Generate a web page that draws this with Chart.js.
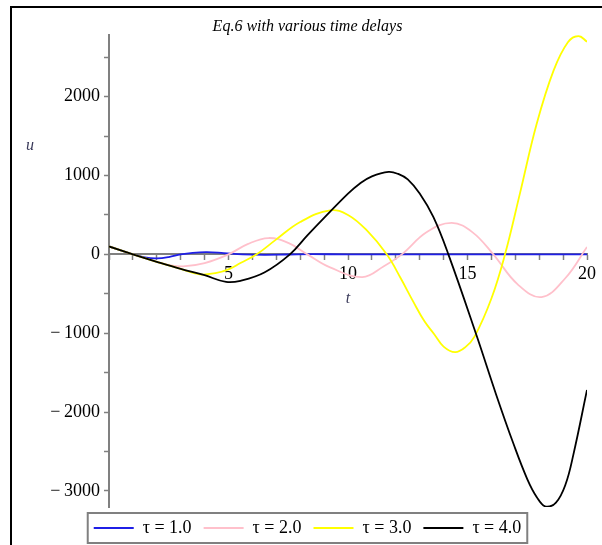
<!DOCTYPE html>
<html>
<head>
<meta charset="utf-8">
<script src="https://cdn.jsdelivr.net/npm/chart.js"></script>
<style>
  body { margin: 0; background: #fff; }
  #wrap { position: relative; width: 602px; height: 545px; overflow: hidden; }
  #grafico { position: absolute; left: 0; top: 0; }
  #frame { position: absolute; left: 10px; top: 6px; right: -4px; bottom: -4px; border-left: 2px solid #000; border-top: 2px solid #000; pointer-events: none; }
</style>
</head>
<body>
<div id="wrap">
  <canvas id="grafico" width="602" height="545"></canvas>
  <div id="frame"></div>
</div>
<script>
// nomes e cores das series
const seriesNames = ['τ = 1.0', 'τ = 2.0', 'τ = 3.0', 'τ = 4.0'];
const seriesColors = ['#1f1fe6', '#ffc0cb', '#ffff00', '#000000'];

// tau = 1.0
const tau1T = [0, 1, 1.5, 2, 2.5, 3, 3.5, 4.1, 4.8, 5.6, 6.5, 7.5, 8.5, 10, 12, 15, 20];
const tau1U = [100, 0, -40, -52, -35, 0, 20, 28, 16, 0, -6, -2, 2, 0, 0, 0, 0];

// tau = 2.0
const tau2T = [0, 1, 2, 2.5, 3.1, 4, 5, 5.8, 6.67, 7.5, 8.3, 9.25, 10.6, 11.5, 12.25, 13.3, 14.34, 15.2, 16.08, 17.1, 18.1, 19.1, 20];
const tau2U = [100, 0, -95, -135, -152, -110, 0, 130, 207, 145, 0, -165, -288, -150, 0, 283, 398, 282, 0, -380, -542, -300, 93];

// tau = 3.0
const tau3T = [0, 1, 2, 3, 3.8, 4.5, 5, 5.5, 6.18, 7, 8, 9.25, 10, 10.8, 11.62, 12.2, 12.73, 13.2, 13.6, 14, 14.48, 14.9, 15.3, 16, 16.57, 17.2, 17.89, 18.6, 19.2, 19.64, 20];
const tau3U = [100, 0, -95, -185, -254, -235, -190, -110, 0, 190, 410, 559, 500, 300, 0, -300, -600, -850, -1010, -1170, -1241, -1180, -1040, -560, 0, 780, 1650, 2330, 2690, 2770, 2698];

// tau = 4.0
const tau4T = [0, 1, 2, 3, 4, 4.9, 5.5, 6.5, 7.57, 8.3, 9, 10, 10.5, 11, 11.7, 12.1, 12.5, 13, 13.57, 14.2, 15.38, 16.2, 16.92, 17.5, 17.9, 18.27, 18.7, 19.1, 19.43, 20];
const tau4U = [100, 0, -95, -185, -265, -350, -335, -230, 0, 240, 462, 770, 900, 990, 1046, 1020, 950, 771, 474, 0, -1030, -1780, -2400, -2850, -3080, -3200, -3150, -2920, -2540, -1720];

const allT = [tau1T, tau2T, tau3T, tau4T];
const allU = [tau1U, tau2U, tau3U, tau4U];

// ticks dos eixos
const xMin = 0, xMax = 20;
const xTicks = [0, 1, 2, 3, 4, 5, 6, 7, 8, 9, 10, 11, 12, 13, 14, 15, 16, 17, 18, 19, 20];
const yMin = -3205, yMax = 2780;
const yTicks = [-3000, -2500, -2000, -1500, -1000, -500, 0, 500, 1000, 1500, 2000, 2500];

function fmtY(v) {
  if (v % 1000 !== 0) return '';
  return v < 0 ? '\u2212\u2009' + Math.abs(v) : String(v);
}

const datasets = seriesNames.map((name, i) => ({
  label: name,
  data: allT[i].map((t, k) => ({ x: t, y: allU[i][k] })),
  borderColor: seriesColors[i],
  backgroundColor: seriesColors[i],
  borderWidth: 1.8,
  pointRadius: 0,
  tension: 0.4,
  order: seriesNames.length - i
}));

// moldura da legenda e rotulo do eixo u
const extras = {
  id: 'extras',
  afterDraw(chart) {
    const ctx = chart.ctx;
    const boxes = chart.legend.legendHitBoxes;
    if (boxes && boxes.length) {
      const l = Math.min(...boxes.map(b => b.left)) - 6;
      const r = Math.max(...boxes.map(b => b.left + b.width)) + 6;
      const t = boxes[0].top - 6;
      const h = boxes[0].height + 12;
      ctx.save();
      ctx.strokeStyle = '#808080';
      ctx.lineWidth = 2;
      ctx.strokeRect(l, t, r - l, h);
      ctx.restore();
    }
    ctx.save();
    ctx.font = 'italic 16px "Liberation Serif"';
    ctx.fillStyle = '#3a3a5a';
    ctx.textAlign = 'center';
    ctx.textBaseline = 'middle';
    ctx.fillText('u', 30, 146);
    ctx.restore();
  }
};

const ctx = document.getElementById('grafico').getContext('2d');
new Chart(ctx, {
  type: 'line',
  data: { datasets: datasets },
  options: {
    responsive: false,
    animation: false,
    layout: { padding: { left: 28, right: 15, top: 0, bottom: -2 } },
    scales: {
      x: {
        type: 'linear',
        position: { y: 0 },
        min: xMin,
        max: xMax,
        afterBuildTicks: s => { s.ticks = xTicks.map(v => ({ value: v })); },
        grid: { drawOnChartArea: false, drawTicks: true, tickLength: 5, color: '#808080', tickWidth: 1.5 },
        border: { display: true, color: '#808080', width: 2 },
        ticks: {
          autoSkip: false,
          maxRotation: 0,
          padding: 4,
          color: '#000',
          font: { family: 'Liberation Serif', size: 18 },
          callback: v => (v % 5 === 0 && v !== 0) ? String(v) : ''
        },
        title: { display: true, text: 't', color: '#3a3a5a', font: { family: 'Liberation Serif', size: 16, style: 'italic' }, padding: { top: 0, bottom: 3 } }
      },
      y: {
        type: 'linear',
        position: 'left',
        min: yMin,
        max: yMax,
        afterFit: s => { s.width = 81; },
        afterBuildTicks: s => { s.ticks = yTicks.map(v => ({ value: v })); },
        grid: { drawOnChartArea: false, drawTicks: true, tickLength: 5, color: '#808080', tickWidth: 1.5 },
        border: { display: true, color: '#808080', width: 2 },
        ticks: {
          autoSkip: false,
          padding: 4,
          color: '#000',
          font: { family: 'Liberation Serif', size: 18 },
          callback: v => fmtY(v)
        }
      }
    },
    plugins: {
      title: {
        display: true,
        text: 'Eq.6 with various time delays',
        color: '#000',
        font: { family: 'Liberation Serif', size: 16, style: 'italic', weight: 'normal' },
        padding: { top: 17, bottom: -1 }
      },
      legend: {
        position: 'bottom',
        labels: {
          usePointStyle: true,
          pointStyle: 'line',
          pointStyleWidth: 40,
          color: '#000',
          padding: 12,
          font: { family: 'Liberation Serif', size: 18 },
          sort: (a, b) => a.datasetIndex - b.datasetIndex
        }
      },
      tooltip: { enabled: false }
    }
  },
  plugins: [extras]
});
</script>
</body>
</html>
